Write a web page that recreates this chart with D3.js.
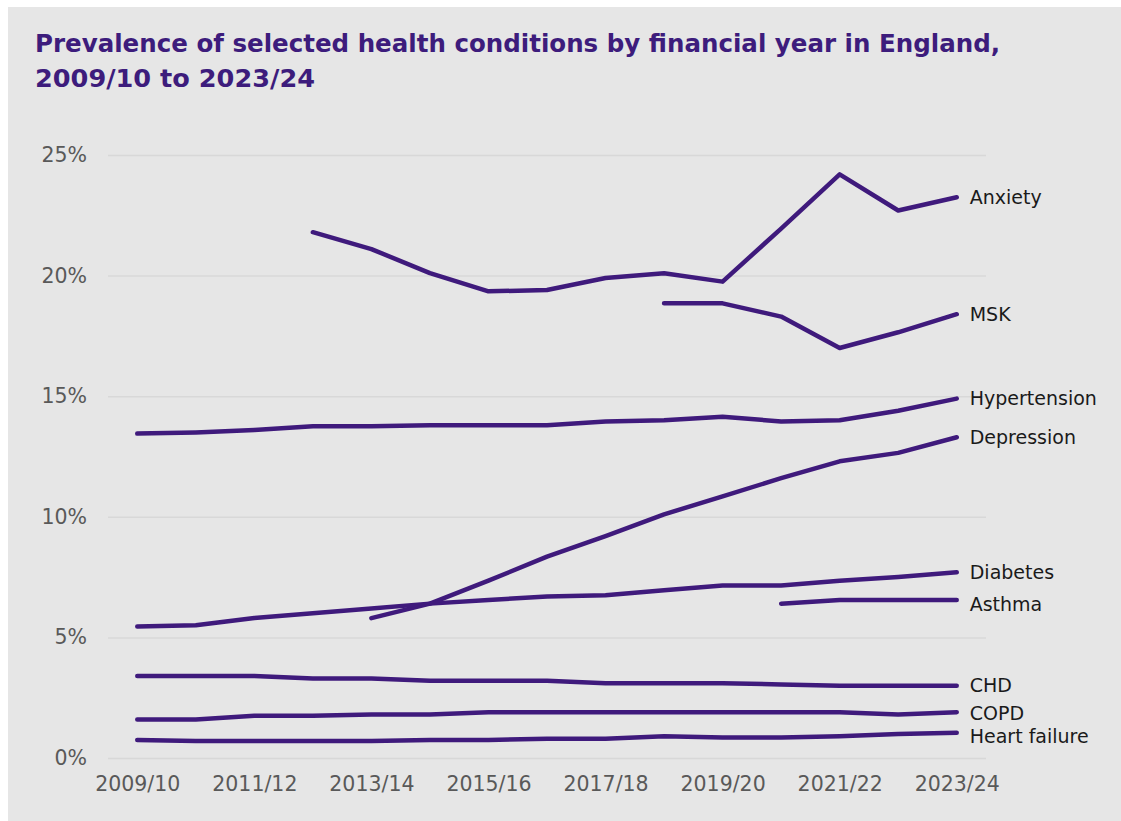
<!DOCTYPE html>
<html>
<head>
<meta charset="utf-8">
<script src="https://cdn.jsdelivr.net/npm/d3@7"></script>
<style>
  body { margin: 0; background: #ffffff; }
  svg { display: block; }
</style>
</head>
<body>
<script>
// financial years on the x axis
const years = ["2009/10", "2010/11", "2011/12", "2012/13", "2013/14", "2014/15", "2015/16",
  "2016/17", "2017/18", "2018/19", "2019/20", "2020/21", "2021/22", "2022/23", "2023/24"]
const tickYears = ["2009/10", "2011/12", "2013/14", "2015/16", "2017/18", "2019/20", "2021/22", "2023/24"]
const yTicks = [0, 5, 10, 15, 20, 25]

// prevalence (%) per condition, null where not recorded
const anxiety = [null, null, null, 21.8, 21.1, 20.1, 19.35, 19.4, 19.9, 20.1, 19.75, 21.95, 24.2, 22.7, 23.25]
const msk = [null, null, null, null, null, null, null, null, null, 18.85, 18.85, 18.3, 17.0, 17.65, 18.4]
const hypertension = [13.45, 13.5, 13.6, 13.75, 13.75, 13.8, 13.8, 13.8, 13.95, 14.0, 14.15, 13.95, 14.0, 14.4, 14.9]
const depression = [null, null, null, null, 5.8, 6.4, 7.35, 8.35, 9.2, 10.1, 10.85, 11.6, 12.3, 12.65, 13.3]
const diabetes = [5.45, 5.5, 5.8, 6.0, 6.2, 6.4, 6.55, 6.7, 6.75, 6.95, 7.15, 7.15, 7.35, 7.5, 7.7]
const asthma = [null, null, null, null, null, null, null, null, null, null, null, 6.4, 6.55, 6.55, 6.55]
const chd = [3.4, 3.4, 3.4, 3.3, 3.3, 3.2, 3.2, 3.2, 3.1, 3.1, 3.1, 3.05, 3.0, 3.0, 3.0]
const copd = [1.6, 1.6, 1.75, 1.75, 1.8, 1.8, 1.9, 1.9, 1.9, 1.9, 1.9, 1.9, 1.9, 1.8, 1.9]
const heartFailure = [0.75, 0.7, 0.7, 0.7, 0.7, 0.75, 0.75, 0.8, 0.8, 0.9, 0.85, 0.85, 0.9, 1.0, 1.05]

const series = [
  {name: "Anxiety", values: anxiety},
  {name: "MSK", values: msk},
  {name: "Hypertension", values: hypertension},
  {name: "Depression", values: depression},
  {name: "Diabetes", values: diabetes},
  {name: "Asthma", values: asthma},
  {name: "CHD", values: chd},
  {name: "COPD", values: copd},
  {name: "Heart failure", values: heartFailure}
]

// small vertical nudges for the end labels so they don't collide
const labelNudge = {"Asthma": 4, "COPD": 1, "Heart failure": 4}

const W = 1121, H = 821
const plot = {left: 108, right: 986, top: 155, bottom: 758}
const purple = "#3f1a7c"
const font = "'DejaVu Sans', Verdana, sans-serif"

const svg = d3.select("body").append("svg")
  .attr("width", W)
  .attr("height", H)

// grey panel
svg.append("rect")
  .attr("x", 8).attr("y", 7)
  .attr("width", W - 8).attr("height", H - 7)
  .attr("fill", "#e6e6e6")

// title
const title = svg.append("text")
  .attr("x", 35)
  .attr("y", 52)
  .attr("fill", "#3d1c7c")
  .style("font-family", font)
  .style("font-weight", "bold")
  .style("font-size", "25px")
title.append("tspan").attr("x", 35).attr("textLength", 965).attr("lengthAdjust", "spacingAndGlyphs")
  .text("Prevalence of selected health conditions by financial year in England,")
title.append("tspan").attr("x", 35).attr("dy", 35).attr("textLength", 280).attr("lengthAdjust", "spacingAndGlyphs")
  .text("2009/10 to 2023/24")

const xScale = d3.scalePoint()
  .domain(years)
  .range([plot.left, plot.right])
  .padding(0.5)

const yScale = d3.scaleLinear()
  .domain([0, 25])
  .range([plot.bottom, plot.top])

// gridlines + y labels
const yAxis = svg.append("g")
  .attr("transform", "translate(" + plot.left + ",0)")
  .call(d3.axisLeft(yScale)
    .tickValues(yTicks)
    .tickSize(-(plot.right - plot.left))
    .tickPadding(21)
    .tickFormat(d => d + "%"))
yAxis.select(".domain").remove()
yAxis.selectAll(".tick line").attr("stroke", "#d8d8d8").attr("stroke-width", 1.5)
yAxis.selectAll(".tick text")
  .attr("fill", "#595959")
  .style("font-family", font)
  .style("font-size", "20.5px")

// x labels
const xAxis = svg.append("g")
  .attr("transform", "translate(0," + plot.bottom + ")")
  .call(d3.axisBottom(xScale).tickValues(tickYears).tickSize(0).tickPadding(18))
xAxis.select(".domain").remove()
xAxis.selectAll(".tick text")
  .attr("fill", "#595959")
  .style("font-family", font)
  .style("font-size", "20.5px")

// lines
const line = d3.line()
  .defined(d => d[1] != null)
  .x(d => xScale(d[0]))
  .y(d => yScale(d[1]))

svg.selectAll(".series")
  .data(series)
  .enter()
  .append("path")
    .attr("class", "series")
    .attr("fill", "none")
    .attr("stroke", purple)
    .attr("stroke-width", 4.5)
    .attr("stroke-linejoin", "round")
    .attr("stroke-linecap", "round")
    .attr("d", s => line(years.map((y, i) => [y, s.values[i]])))

// end labels
svg.selectAll(".endLabel")
  .data(series)
  .enter()
  .append("text")
    .attr("class", "endLabel")
    .attr("x", xScale(years[years.length - 1]) + 13)
    .attr("y", s => yScale(s.values[s.values.length - 1]) + (labelNudge[s.name] || 0))
    .attr("dy", "0.35em")
    .attr("fill", "#1a1a1a")
    .style("font-family", font)
    .style("font-size", "19px")
    .text(s => s.name)
</script>
</body>
</html>
